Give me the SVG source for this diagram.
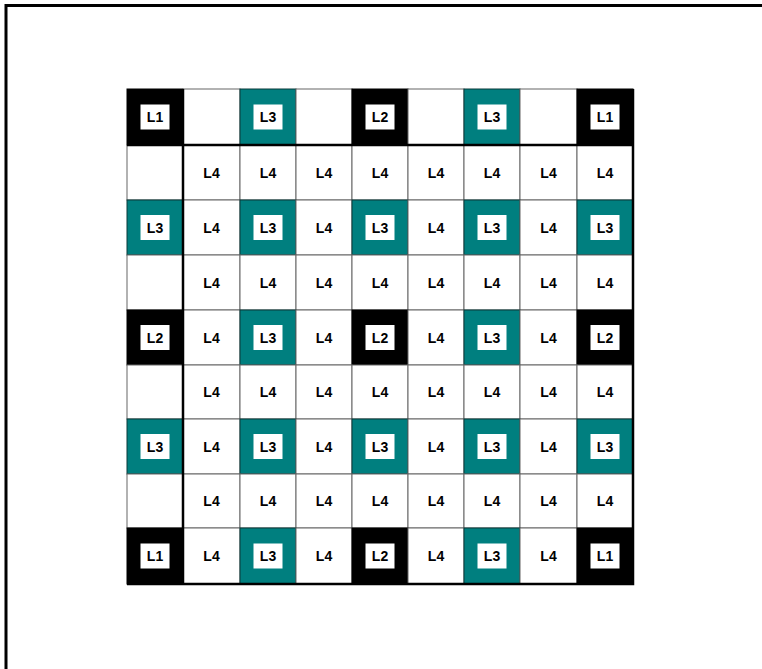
<svg xmlns="http://www.w3.org/2000/svg" width="762" height="669" viewBox="0 0 762 669">
<style>
.w{fill:#fff;stroke:#666;stroke-width:1}
.k{fill:#000;stroke:#000;stroke-width:1}
.t{fill:#007f7f;stroke:#0a3a3a;stroke-width:1}
.b{fill:#fff;stroke:none}
.l{font-family:"Liberation Sans",Arial,sans-serif;font-weight:bold;font-size:14px;fill:#000;text-anchor:middle}
.th{stroke:#000;stroke-width:2.5;fill:none}
</style>
<rect x="6" y="5.5" width="800" height="700" fill="#fff" stroke="#000" stroke-width="3"/>
<g id="grid">
<!-- row 0 -->
<g id="c0_0"><rect class="k" x="127" y="89" width="56" height="56"/><rect class="b" x="140.5" y="104.5" width="29" height="25"/><text class="l" x="155" y="122">L1</text></g>
<g id="c0_1"><rect class="w" x="183" y="89" width="57" height="56"/></g>
<g id="c0_2"><rect class="t" x="240" y="89" width="56" height="56"/><rect class="b" x="253.5" y="104.5" width="29" height="25"/><text class="l" x="268" y="122">L3</text></g>
<g id="c0_3"><rect class="w" x="296" y="89" width="56" height="56"/></g>
<g id="c0_4"><rect class="k" x="352" y="89" width="56" height="56"/><rect class="b" x="365.5" y="104.5" width="29" height="25"/><text class="l" x="380" y="122">L2</text></g>
<g id="c0_5"><rect class="w" x="408" y="89" width="56" height="56"/></g>
<g id="c0_6"><rect class="t" x="464" y="89" width="56" height="56"/><rect class="b" x="477.5" y="104.5" width="29" height="25"/><text class="l" x="492" y="122">L3</text></g>
<g id="c0_7"><rect class="w" x="520" y="89" width="57" height="56"/></g>
<g id="c0_8"><rect class="k" x="577" y="89" width="56" height="56"/><rect class="b" x="590.5" y="104.5" width="29" height="25"/><text class="l" x="605" y="122">L1</text></g>
<!-- row 1 -->
<g id="c1_0"><rect class="w" x="127" y="145" width="56" height="55"/></g>
<g id="c1_1"><rect class="w" x="183" y="145" width="57" height="55"/><text class="l" x="211.5" y="177.5">L4</text></g>
<g id="c1_2"><rect class="w" x="240" y="145" width="56" height="55"/><text class="l" x="268" y="177.5">L4</text></g>
<g id="c1_3"><rect class="w" x="296" y="145" width="56" height="55"/><text class="l" x="324" y="177.5">L4</text></g>
<g id="c1_4"><rect class="w" x="352" y="145" width="56" height="55"/><text class="l" x="380" y="177.5">L4</text></g>
<g id="c1_5"><rect class="w" x="408" y="145" width="56" height="55"/><text class="l" x="436" y="177.5">L4</text></g>
<g id="c1_6"><rect class="w" x="464" y="145" width="56" height="55"/><text class="l" x="492" y="177.5">L4</text></g>
<g id="c1_7"><rect class="w" x="520" y="145" width="57" height="55"/><text class="l" x="548.5" y="177.5">L4</text></g>
<g id="c1_8"><rect class="w" x="577" y="145" width="56" height="55"/><text class="l" x="605" y="177.5">L4</text></g>
<!-- row 2 -->
<g id="c2_0"><rect class="t" x="127" y="200" width="56" height="55"/><rect class="b" x="140.5" y="215" width="29" height="25"/><text class="l" x="155" y="232.5">L3</text></g>
<g id="c2_1"><rect class="w" x="183" y="200" width="57" height="55"/><text class="l" x="211.5" y="232.5">L4</text></g>
<g id="c2_2"><rect class="t" x="240" y="200" width="56" height="55"/><rect class="b" x="253.5" y="215" width="29" height="25"/><text class="l" x="268" y="232.5">L3</text></g>
<g id="c2_3"><rect class="w" x="296" y="200" width="56" height="55"/><text class="l" x="324" y="232.5">L4</text></g>
<g id="c2_4"><rect class="t" x="352" y="200" width="56" height="55"/><rect class="b" x="365.5" y="215" width="29" height="25"/><text class="l" x="380" y="232.5">L3</text></g>
<g id="c2_5"><rect class="w" x="408" y="200" width="56" height="55"/><text class="l" x="436" y="232.5">L4</text></g>
<g id="c2_6"><rect class="t" x="464" y="200" width="56" height="55"/><rect class="b" x="477.5" y="215" width="29" height="25"/><text class="l" x="492" y="232.5">L3</text></g>
<g id="c2_7"><rect class="w" x="520" y="200" width="57" height="55"/><text class="l" x="548.5" y="232.5">L4</text></g>
<g id="c2_8"><rect class="t" x="577" y="200" width="56" height="55"/><rect class="b" x="590.5" y="215" width="29" height="25"/><text class="l" x="605" y="232.5">L3</text></g>
<!-- row 3 -->
<g id="c3_0"><rect class="w" x="127" y="255" width="56" height="55"/></g>
<g id="c3_1"><rect class="w" x="183" y="255" width="57" height="55"/><text class="l" x="211.5" y="287.5">L4</text></g>
<g id="c3_2"><rect class="w" x="240" y="255" width="56" height="55"/><text class="l" x="268" y="287.5">L4</text></g>
<g id="c3_3"><rect class="w" x="296" y="255" width="56" height="55"/><text class="l" x="324" y="287.5">L4</text></g>
<g id="c3_4"><rect class="w" x="352" y="255" width="56" height="55"/><text class="l" x="380" y="287.5">L4</text></g>
<g id="c3_5"><rect class="w" x="408" y="255" width="56" height="55"/><text class="l" x="436" y="287.5">L4</text></g>
<g id="c3_6"><rect class="w" x="464" y="255" width="56" height="55"/><text class="l" x="492" y="287.5">L4</text></g>
<g id="c3_7"><rect class="w" x="520" y="255" width="57" height="55"/><text class="l" x="548.5" y="287.5">L4</text></g>
<g id="c3_8"><rect class="w" x="577" y="255" width="56" height="55"/><text class="l" x="605" y="287.5">L4</text></g>
<!-- row 4 -->
<g id="c4_0"><rect class="k" x="127" y="310" width="56" height="55"/><rect class="b" x="140.5" y="325" width="29" height="25"/><text class="l" x="155" y="342.5">L2</text></g>
<g id="c4_1"><rect class="w" x="183" y="310" width="57" height="55"/><text class="l" x="211.5" y="342.5">L4</text></g>
<g id="c4_2"><rect class="t" x="240" y="310" width="56" height="55"/><rect class="b" x="253.5" y="325" width="29" height="25"/><text class="l" x="268" y="342.5">L3</text></g>
<g id="c4_3"><rect class="w" x="296" y="310" width="56" height="55"/><text class="l" x="324" y="342.5">L4</text></g>
<g id="c4_4"><rect class="k" x="352" y="310" width="56" height="55"/><rect class="b" x="365.5" y="325" width="29" height="25"/><text class="l" x="380" y="342.5">L2</text></g>
<g id="c4_5"><rect class="w" x="408" y="310" width="56" height="55"/><text class="l" x="436" y="342.5">L4</text></g>
<g id="c4_6"><rect class="t" x="464" y="310" width="56" height="55"/><rect class="b" x="477.5" y="325" width="29" height="25"/><text class="l" x="492" y="342.5">L3</text></g>
<g id="c4_7"><rect class="w" x="520" y="310" width="57" height="55"/><text class="l" x="548.5" y="342.5">L4</text></g>
<g id="c4_8"><rect class="k" x="577" y="310" width="56" height="55"/><rect class="b" x="590.5" y="325" width="29" height="25"/><text class="l" x="605" y="342.5">L2</text></g>
<!-- row 5 -->
<g id="c5_0"><rect class="w" x="127" y="365" width="56" height="54"/></g>
<g id="c5_1"><rect class="w" x="183" y="365" width="57" height="54"/><text class="l" x="211.5" y="397">L4</text></g>
<g id="c5_2"><rect class="w" x="240" y="365" width="56" height="54"/><text class="l" x="268" y="397">L4</text></g>
<g id="c5_3"><rect class="w" x="296" y="365" width="56" height="54"/><text class="l" x="324" y="397">L4</text></g>
<g id="c5_4"><rect class="w" x="352" y="365" width="56" height="54"/><text class="l" x="380" y="397">L4</text></g>
<g id="c5_5"><rect class="w" x="408" y="365" width="56" height="54"/><text class="l" x="436" y="397">L4</text></g>
<g id="c5_6"><rect class="w" x="464" y="365" width="56" height="54"/><text class="l" x="492" y="397">L4</text></g>
<g id="c5_7"><rect class="w" x="520" y="365" width="57" height="54"/><text class="l" x="548.5" y="397">L4</text></g>
<g id="c5_8"><rect class="w" x="577" y="365" width="56" height="54"/><text class="l" x="605" y="397">L4</text></g>
<!-- row 6 -->
<g id="c6_0"><rect class="t" x="127" y="419" width="56" height="55"/><rect class="b" x="140.5" y="434" width="29" height="25"/><text class="l" x="155" y="451.5">L3</text></g>
<g id="c6_1"><rect class="w" x="183" y="419" width="57" height="55"/><text class="l" x="211.5" y="451.5">L4</text></g>
<g id="c6_2"><rect class="t" x="240" y="419" width="56" height="55"/><rect class="b" x="253.5" y="434" width="29" height="25"/><text class="l" x="268" y="451.5">L3</text></g>
<g id="c6_3"><rect class="w" x="296" y="419" width="56" height="55"/><text class="l" x="324" y="451.5">L4</text></g>
<g id="c6_4"><rect class="t" x="352" y="419" width="56" height="55"/><rect class="b" x="365.5" y="434" width="29" height="25"/><text class="l" x="380" y="451.5">L3</text></g>
<g id="c6_5"><rect class="w" x="408" y="419" width="56" height="55"/><text class="l" x="436" y="451.5">L4</text></g>
<g id="c6_6"><rect class="t" x="464" y="419" width="56" height="55"/><rect class="b" x="477.5" y="434" width="29" height="25"/><text class="l" x="492" y="451.5">L3</text></g>
<g id="c6_7"><rect class="w" x="520" y="419" width="57" height="55"/><text class="l" x="548.5" y="451.5">L4</text></g>
<g id="c6_8"><rect class="t" x="577" y="419" width="56" height="55"/><rect class="b" x="590.5" y="434" width="29" height="25"/><text class="l" x="605" y="451.5">L3</text></g>
<!-- row 7 -->
<g id="c7_0"><rect class="w" x="127" y="474" width="56" height="54"/></g>
<g id="c7_1"><rect class="w" x="183" y="474" width="57" height="54"/><text class="l" x="211.5" y="506">L4</text></g>
<g id="c7_2"><rect class="w" x="240" y="474" width="56" height="54"/><text class="l" x="268" y="506">L4</text></g>
<g id="c7_3"><rect class="w" x="296" y="474" width="56" height="54"/><text class="l" x="324" y="506">L4</text></g>
<g id="c7_4"><rect class="w" x="352" y="474" width="56" height="54"/><text class="l" x="380" y="506">L4</text></g>
<g id="c7_5"><rect class="w" x="408" y="474" width="56" height="54"/><text class="l" x="436" y="506">L4</text></g>
<g id="c7_6"><rect class="w" x="464" y="474" width="56" height="54"/><text class="l" x="492" y="506">L4</text></g>
<g id="c7_7"><rect class="w" x="520" y="474" width="57" height="54"/><text class="l" x="548.5" y="506">L4</text></g>
<g id="c7_8"><rect class="w" x="577" y="474" width="56" height="54"/><text class="l" x="605" y="506">L4</text></g>
<!-- row 8 -->
<g id="c8_0"><rect class="k" x="127" y="528" width="56" height="56"/><rect class="b" x="140.5" y="543.5" width="29" height="25"/><text class="l" x="155" y="561">L1</text></g>
<g id="c8_1"><rect class="w" x="183" y="528" width="57" height="56"/><text class="l" x="211.5" y="561">L4</text></g>
<g id="c8_2"><rect class="t" x="240" y="528" width="56" height="56"/><rect class="b" x="253.5" y="543.5" width="29" height="25"/><text class="l" x="268" y="561">L3</text></g>
<g id="c8_3"><rect class="w" x="296" y="528" width="56" height="56"/><text class="l" x="324" y="561">L4</text></g>
<g id="c8_4"><rect class="k" x="352" y="528" width="56" height="56"/><rect class="b" x="365.5" y="543.5" width="29" height="25"/><text class="l" x="380" y="561">L2</text></g>
<g id="c8_5"><rect class="w" x="408" y="528" width="56" height="56"/><text class="l" x="436" y="561">L4</text></g>
<g id="c8_6"><rect class="t" x="464" y="528" width="56" height="56"/><rect class="b" x="477.5" y="543.5" width="29" height="25"/><text class="l" x="492" y="561">L3</text></g>
<g id="c8_7"><rect class="w" x="520" y="528" width="57" height="56"/><text class="l" x="548.5" y="561">L4</text></g>
<g id="c8_8"><rect class="k" x="577" y="528" width="56" height="56"/><rect class="b" x="590.5" y="543.5" width="29" height="25"/><text class="l" x="605" y="561">L1</text></g>
</g>
<g id="connectors">
<line class="th" x1="183" y1="89" x2="183" y2="584"/>
<line class="th" x1="127" y1="145" x2="633" y2="145"/>
<polyline class="th" points="633,89 633,584 127,584"/>
</g>
</svg>
